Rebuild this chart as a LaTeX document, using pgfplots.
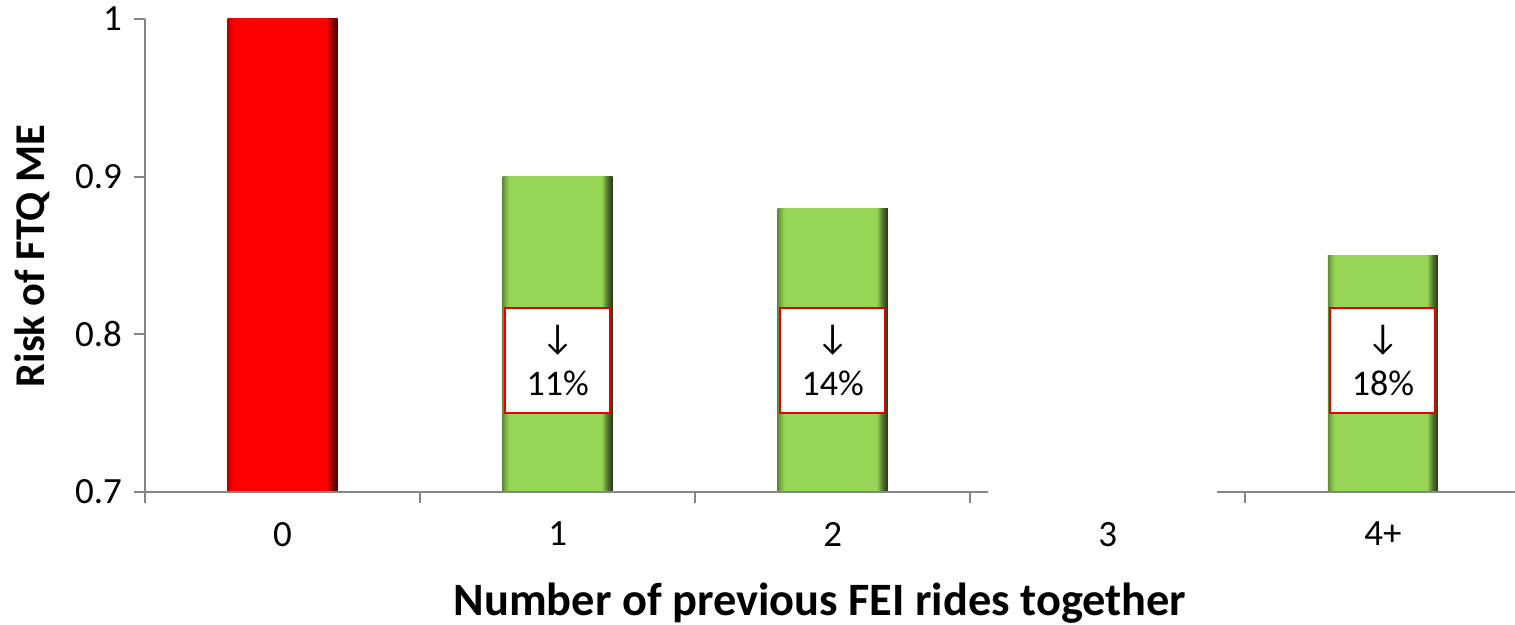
\documentclass[border=0pt]{standalone}
\usepackage{fontspec}
\setmainfont{Carlito}
\usepackage{pgfplots}
\pgfplotsset{compat=1.18}

\definecolor{axisgray}{RGB}{134,134,134}
\definecolor{barred}{RGB}{255,0,0}
\definecolor{bargreen}{RGB}{150,213,85}
\definecolor{boxred}{RGB}{230,0,0}

% bevelled look of the bars: darker left edge, strong dark right edge
\pgfdeclarehorizontalshading{redbevel}{100bp}{%
  color(0bp)=(barred!70!black); color(25bp)=(barred!70!black);
  color(26.5bp)=(barred!90!black); color(28bp)=(barred);
  color(70bp)=(barred); color(72.5bp)=(barred!55!black);
  color(75bp)=(barred!25!black); color(100bp)=(barred!25!black)}
\pgfdeclarehorizontalshading{greenbevel}{100bp}{%
  color(0bp)=(bargreen!65!black); color(25bp)=(bargreen!65!black);
  color(26.5bp)=(bargreen!85!black); color(28bp)=(bargreen);
  color(70bp)=(bargreen); color(72.5bp)=(bargreen!55!black);
  color(75bp)=(bargreen!25!black); color(100bp)=(bargreen!25!black)}

\begin{document}
\begin{tikzpicture}
\begin{axis}[
  name=main,
  scale only axis,
  width=685pt, height=236.5pt,
  xmin=-0.5, xmax=4.48,
  ymin=0.7, ymax=1,
  axis lines*=left,
  x axis line style={draw=none},
  y axis line style={draw=axisgray, line width=1pt},
  xtick={0,1,2,3,4},
  xticklabels={0,1,2,3,4+},
  minor xtick={-0.5,0.5,1.5,2.5,3.5},
  ytick={0.7,0.8,0.9,1},
  tick align=outside,
  major tick length=5.5pt,
  minor tick length=5.5pt,
  major x tick style={draw=none},
  minor x tick style={draw=axisgray, line width=1pt},
  major y tick style={draw=axisgray, line width=1pt},
  /pgf/number format/fixed,
  /pgf/number format/assume math mode=true,
  ticklabel style={font=\fontsize{18.5}{22}\selectfont},
  yticklabel style={xshift=-2.5pt},
  xticklabel style={yshift=-6pt},
  xlabel={Number of previous FEI rides together},
  ylabel={Risk of FTQ ME},
  xlabel style={font=\bfseries\fontsize{23.2}{28}\selectfont,
    at={(axis description cs:0.4927,0)}, anchor=center, yshift=-55.5pt},
  ylabel style={font=\bfseries\fontsize{21.2}{26}\selectfont,
    at={(axis description cs:0,0.499)}, anchor=center, yshift=56.5pt},
  clip=false,
]
% bars, one series per category so each gets its own shading
\addplot[ybar, bar shift=0pt, bar width=0.4, draw=none, shading=redbevel]
  coordinates {(0,1.00)};
\addplot[ybar, bar shift=0pt, bar width=0.4, draw=none, shading=greenbevel]
  coordinates {(1,0.90)};
\addplot[ybar, bar shift=0pt, bar width=0.4, draw=none, shading=greenbevel]
  coordinates {(2,0.88)};
\addplot[ybar, bar shift=0pt, bar width=0.4, draw=none, shading=greenbevel]
  coordinates {(4,0.85)};

% broken category axis (no data for 3)
\draw[axisgray, line width=1pt] (axis cs:-0.5,0.7) -- (axis cs:2.566,0.7);
\draw[axisgray, line width=1pt] (axis cs:3.395,0.7) -- (axis cs:4.48,0.7);

% reduction labels
\tikzset{redbox/.style={draw=boxred, line width=1pt, fill=white,
  minimum width=52.5pt, minimum height=52.5pt, inner sep=0pt,
  align=center, font=\fontsize{18}{23}\selectfont}}
\node[redbox] at (axis cs:1,0.7837) {↓\\11\%};
\node[redbox] at (axis cs:2,0.7837) {↓\\14\%};
\node[redbox] at (axis cs:4,0.7837) {↓\\18\%};
\end{axis}
\pgfresetboundingbox
\useasboundingbox (main.south west) ++(-72.5pt,-66.5pt) rectangle ++(757.5pt,312.5pt);
\end{tikzpicture}
\end{document}
